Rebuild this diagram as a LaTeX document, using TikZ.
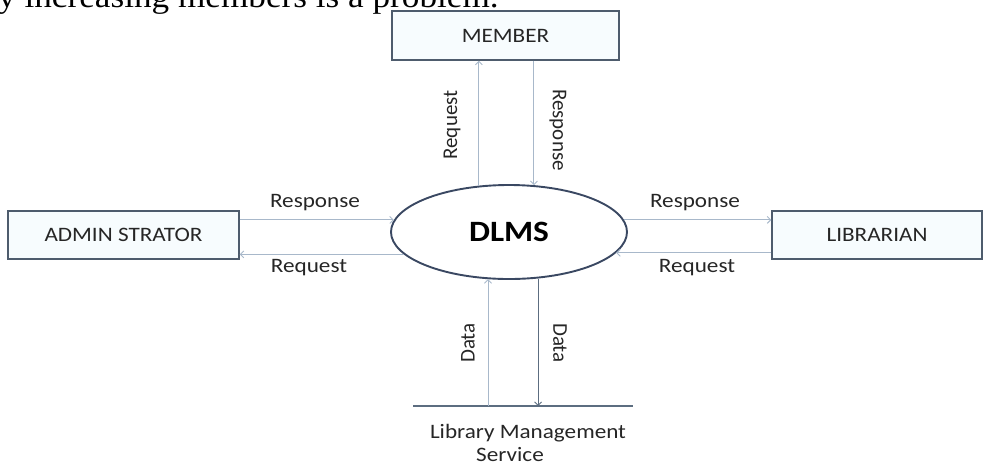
\documentclass[tikz,border=0pt]{standalone}
\usepackage{fontspec}
\setmainfont{Carlito}
\newfontfamily\bodyserif{Liberation Serif}
\usetikzlibrary{shapes.geometric,arrows.meta}
\definecolor{boxline}{HTML}{4E5C6D}
\definecolor{boxfill}{HTML}{F7FCFE}
\definecolor{flowline}{HTML}{A8B8CA}
\definecolor{flowdark}{HTML}{5C6D80}
\definecolor{ovalline}{HTML}{3A4862}
\definecolor{labeltext}{HTML}{262626}
% Calibri-like lettering is set a little wider than the font's own proportions
\newcommand\stretchtext[1]{\scalebox{1.13}[1]{#1}}
\begin{document}
\begin{tikzpicture}[x=1pt,y=-1pt,
  entity/.style={draw=boxline,line width=1.3pt,fill=boxfill,inner sep=0pt,
    minimum height=48pt,font=\fontsize{20.5}{24}\selectfont,text=labeltext},
  process/.style={ellipse,draw=ovalline,line width=1.9pt,fill=white,inner sep=0pt,
    minimum width=236pt,minimum height=94pt,
    font=\bfseries\fontsize{29.5}{32}\selectfont,text=black},
  flow/.style={draw=flowline,line width=0.9pt,-{Straight Barb[length=3.5pt,width=7pt]}},
  storeline/.style={draw=flowdark,line width=1.1pt},
  lbl/.style={font=\fontsize{20.5}{23}\selectfont,text=labeltext,inner sep=0pt},
  vlbl/.style={font=\fontsize{21}{23}\selectfont,text=labeltext,inner sep=0pt},
  bodytext/.style={font=\bodyserif\fontsize{32}{36}\selectfont,text=black,inner sep=0pt}
]
\useasboundingbox (0,0) rectangle (988,467);

% running text of the page above the figure, cut by the page top
\node[bodytext,anchor=base west] (bodyline) at (-2,7)
  {\scalebox{1.1}[1]{y increasing members is a problem.}};

% external entities
\node[entity,minimum width=231pt] (admin) at (123.5,235) {\stretchtext{ADMIN STRATOR}};
\node[entity,minimum width=227pt,minimum height=49pt] (member) at (505.5,35.5) {\stretchtext{MEMBER}};
\node[entity,minimum width=210pt] (librarian) at (877,235) {\stretchtext{LIBRARIAN}};

% central process
\node[process] (dlms) at (509,232) {\stretchtext{DLMS}};

% data store (open store drawn as a single top line)
\coordinate (storeL) at (413,406);
\coordinate (storeR) at (633,406);
\draw[storeline] (storeL) -- (storeR);
\node[lbl,align=center] (store) at (528,443)
  {\stretchtext{Library Management}\\\stretchtext{Service}\hspace*{36pt}};

% flows between administrator and process
\draw[flow] (admin.east |- dlms.174) -- (dlms.174);
\draw[flow] (dlms.192) -- (admin.east |- dlms.192);
% flows between process and librarian
\draw[flow] (dlms.6) -- (librarian.west |- dlms.6);
\draw[flow] (librarian.west |- dlms.349) -- (dlms.349);
% flows between process and member
\draw[flow] (dlms.123) -- (member.south -| dlms.123);
\draw[flow] (member.south -| dlms.62) -- (dlms.62);
% flows between process and data store
\draw[flow] (storeL -| dlms.246) -- (dlms.246);
\draw[flow,draw=flowdark] (dlms.302) -- (storeL -| dlms.302);

% flow labels
\node[lbl] (admresp) at (315,203) {\stretchtext{Response}};
\node[lbl] (admreq) at (309,268) {\stretchtext{Request}};
\node[lbl] (libresp) at (695,203) {\stretchtext{Response}};
\node[lbl] (libreq) at (697,268) {\stretchtext{Request}};
\node[vlbl,rotate=90] (memreq) at (452,125) {Request};
\node[vlbl,rotate=-90] (memresp) at (558,130) {Response};
\node[vlbl,rotate=90] (datain) at (468,343) {Data};
\node[vlbl,rotate=-90] (dataout) at (560,343) {Data};
\end{tikzpicture}
\end{document}
